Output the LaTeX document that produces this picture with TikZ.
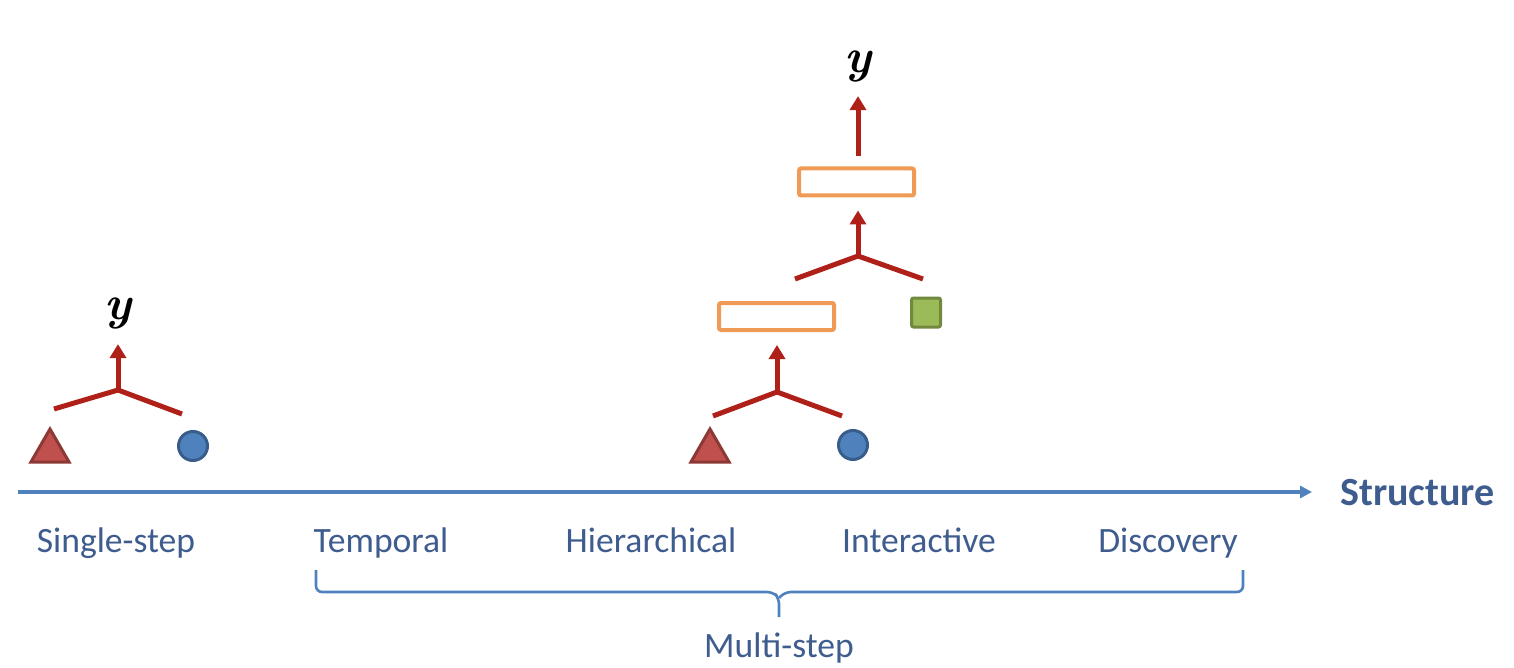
\documentclass[tikz,border=0pt]{standalone}
\usepackage{fontspec}
\newfontfamily\labfont{Carlito}
\usetikzlibrary{arrows.meta,shapes.geometric}
\definecolor{axisblue}{RGB}{79,129,189}
\definecolor{labblue}{RGB}{62,92,142}
\definecolor{treered}{RGB}{175,32,24}
\definecolor{boxorange}{RGB}{240,155,85}
\definecolor{trifill}{RGB}{192,80,77}
\definecolor{triedge}{RGB}{140,56,53}
\definecolor{circfill}{RGB}{79,129,189}
\definecolor{circedge}{RGB}{56,93,138}
\definecolor{sqfill}{RGB}{155,187,89}
\definecolor{sqedge}{RGB}{113,137,63}
\begin{document}
\begin{tikzpicture}[x=0.5pt,y=-0.5pt,
  edge/.style={draw=treered, line width=2.5pt},
  uparrow/.style={edge, -{Triangle[width=8pt,length=7pt]}},
  tri/.style={regular polygon, regular polygon sides=3, minimum size=22pt, inner sep=0pt, outer sep=0pt, fill=trifill, draw=triedge, line width=1.5pt},
  leafcirc/.style={circle, minimum size=14.5pt, inner sep=0pt, fill=circfill, draw=circedge, line width=1.5pt},
  leafsq/.style={rectangle, minimum size=14.5pt, inner sep=0pt, fill=sqfill, draw=sqedge, line width=1.5pt, rounded corners=1pt},
  hidden/.style={rectangle, draw=boxorange, fill=white, line width=2pt, minimum width=57.5pt, minimum height=13.5pt, inner sep=0pt, rounded corners=1pt},
  outy/.style={inner sep=0pt, font=\fontsize{24}{28}\selectfont\bfseries\itshape},
  lab/.style={text=labblue, inner sep=0pt, anchor=base, font=\labfont\fontsize{17.8}{21}\selectfont},
  axis/.style={draw=axisblue, line width=1.6pt, -{Triangle[width=6pt,length=6pt]}},
  brace/.style={draw=axisblue, line width=1.3pt, rounded corners=3pt}
]
\useasboundingbox (0,0) rectangle (1514,668);

% ---- single-step tree ----
\node[tri] (tA) at (50,451) {};
\node[leafcirc] (cA) at (193,446) {};
\coordinate (jA) at (118,390);
\coordinate (lA) at (54,409);
\coordinate (rA) at (182,414);
\draw[edge] (lA) -- (jA) -- (rA);
\node[outy] (yA) at (118,313) {y};
\draw[uparrow, shorten >=7.5pt] (jA) -- (yA.south);

% ---- multi-step tree ----
\node[tri] (tB) at (710,451) {};
\node[leafcirc] (cB) at (853,445) {};
\coordinate (jB) at (777,392);
\coordinate (lB) at (713,416);
\coordinate (rB) at (842,416);
\draw[edge] (lB) -- (jB) -- (rB);
\node[hidden] (h1) at (776.5,316.5) {};
\draw[uparrow, shorten >=6.5pt] (jB) -- (jB |- h1.south);

\node[leafsq] (sq) at (926,312.5) {};
\coordinate (jC) at (858,256);
\coordinate (lC) at (795,279);
\coordinate (rC) at (923,279);
\draw[edge] (lC) -- (jC) -- (rC);
\node[hidden] (h2) at (856.5,182) {};
\draw[uparrow, shorten >=6.5pt] (jC) -- (jC |- h2.south);
\node[outy] (yB) at (858,67) {y};
\draw[uparrow, shorten <=5pt, shorten >=6.5pt] (yB |- h2.north) -- (yB.south);

% ---- axis ----
\coordinate (ax0) at (18,492);
\coordinate (ax1) at (1312,492);
\draw[axis] (ax0) -- (ax1);
\node[anchor=west, inner sep=0pt, text=labblue, font=\labfont\bfseries\fontsize{20}{24}\selectfont] (struct) at (1340,493) {Structure};

% ---- labels ----
\node[lab] (l1) at (116,552) {Single-step};
\node[lab] (l2) at (381,552) {Temporal};
\node[lab] (l3) at (651,552) {Hierarchical};
\node[lab] (l4) at (919,552) {Interactive};
\node[lab] (l5) at (1168,552) {Discovery};

% ---- brace ----
\coordinate (bL) at (316,570);
\coordinate (bR) at (1243,570);
\coordinate (bT) at (779,617);
\draw[brace] (bL) -- (316,592) -- (773,592) -- (779,598) -- (bT);
\draw[brace] (bR) -- (1243,592) -- (785,592) -- (779,598);
\node[lab] (ms) at (779,657) {Multi-step};
\end{tikzpicture}
\end{document}
